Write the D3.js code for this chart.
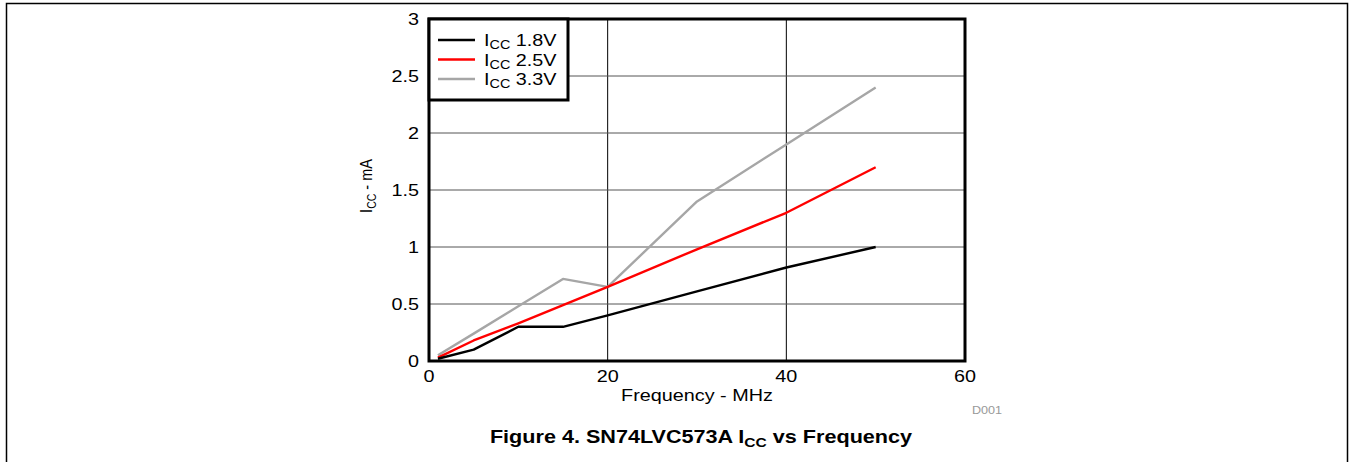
<!DOCTYPE html>
<html>
<head>
<meta charset="utf-8">
<script src="https://cdn.jsdelivr.net/npm/d3@7"></script>
<style>
  body { margin: 0; background: #fff; }
  text { font-family: "Liberation Sans", Arial, sans-serif; }
</style>
</head>
<body>
<div id="chart"></div>
<script>
// frequency (MHz) and ICC (mA)
var freq18 = [1, 5, 10, 15, 20, 30, 40, 50];
var icc18 = [0.02, 0.1, 0.3, 0.3, 0.4, 0.61, 0.82, 1.0];
var freq25 = [1, 5, 10, 15, 20, 30, 40, 50];
var icc25 = [0.03, 0.18, 0.33, 0.49, 0.65, 0.98, 1.3, 1.7];
var freq33 = [1, 5, 10, 15, 20, 30, 40, 50];
var icc33 = [0.05, 0.24, 0.48, 0.72, 0.65, 1.4, 1.9, 2.4];
var seriesNames = ["1.8V", "2.5V", "3.3V"];
var seriesColors = ["#000000", "#ff0000", "#a6a6a6"];
var xTicks = [0, 20, 40, 60];
var yTicks = [0, 0.5, 1, 1.5, 2, 2.5, 3];

var W = 1351, H = 462;
var SX = 1.2; // the figure's text looks stretched sideways
var svg = d3.select("#chart").append("svg").attr("width", W).attr("height", H);

// outer page frame
svg.append("path")
    .attr("d", "M6.5," + (H + 2) + "V3.5H1347.5V" + (H + 2))
    .attr("fill", "none").attr("stroke", "#000").attr("stroke-width", 1.5);

var x = d3.scaleLinear().domain([0, 60]).range([429, 965]);
var y = d3.scaleLinear().domain([0, 3]).range([361, 19]);

function stext(px, py, anchor, size) {
  return svg.append("text")
      .attr("transform", "translate(" + px + "," + py + ") scale(" + SX + ",1)")
      .attr("text-anchor", anchor).attr("font-size", size);
}

// grid
var g = svg.append("g");
g.selectAll("line.gx").data(xTicks.slice(1, -1)).enter().append("line")
    .attr("x1", function(d) { return x(d); }).attr("x2", function(d) { return x(d); })
    .attr("y1", y(0)).attr("y2", y(3))
    .attr("stroke", "#000").attr("stroke-width", 1);
g.selectAll("line.gy").data(yTicks.slice(1, -1)).enter().append("line")
    .attr("y1", function(d) { return y(d); }).attr("y2", function(d) { return y(d); })
    .attr("x1", x(0)).attr("x2", x(60))
    .attr("stroke", "#555").attr("stroke-width", 1);

// series
var series = [
  { name: seriesNames[0], color: seriesColors[0], pts: d3.zip(freq18, icc18) },
  { name: seriesNames[1], color: seriesColors[1], pts: d3.zip(freq25, icc25) },
  { name: seriesNames[2], color: seriesColors[2], pts: d3.zip(freq33, icc33) }
];
var line = d3.line().x(function(d) { return x(d[0]); }).y(function(d) { return y(d[1]); });
// grey first, black last
series.slice().reverse().forEach(function(s) {
  svg.append("path").datum(s.pts).attr("d", line)
      .attr("fill", "none").attr("stroke", s.color).attr("stroke-width", 2.4)
      .attr("stroke-linejoin", "round");
});

// plot border
svg.append("rect").attr("x", x(0)).attr("y", y(3))
    .attr("width", x(60) - x(0)).attr("height", y(0) - y(3))
    .attr("fill", "none").attr("stroke", "#000").attr("stroke-width", 3);

// tick labels
xTicks.forEach(function(d) {
  stext(x(d), y(0) + 21, "middle", 16.5).text(d);
});
yTicks.forEach(function(d) {
  stext(x(0) - 10, y(d) + 6, "end", 16.5).text(d);
});

// axis titles
stext(697, 401, "middle", 16.5).text("Frequency - MHz");
var yt = svg.append("text").attr("transform", "translate(372,186) scale(" + SX + ",1) rotate(-90)")
    .attr("text-anchor", "middle").attr("font-size", 14.5);
yt.append("tspan").text("I");
yt.append("tspan").attr("font-size", 10.5).attr("dy", 3).text("CC");
yt.append("tspan").attr("dy", -3).text(" - mA");

stext(1002, 414, "end", 10.5).attr("fill", "#999").text("D001");

// legend
svg.append("rect").attr("x", x(0)).attr("y", y(3)).attr("width", 139).attr("height", 81)
    .attr("fill", "#fff").attr("stroke", "#000").attr("stroke-width", 3);
series.forEach(function(s, i) {
  var yy = 40 + i * 19.5;
  svg.append("line").attr("x1", 438).attr("x2", 475).attr("y1", yy).attr("y2", yy)
      .attr("stroke", s.color).attr("stroke-width", 2.6);
  var t = stext(484, yy + 6, "start", 16.5);
  t.append("tspan").text("I");
  t.append("tspan").attr("font-size", 12).attr("dy", 3).text("CC");
  t.append("tspan").attr("dy", -3).text(" " + s.name);
});

// caption
var cap = stext(701, 443, "middle", 18).attr("font-weight", "bold");
cap.append("tspan").text("Figure 4. SN74LVC573A I");
cap.append("tspan").attr("font-size", 13).attr("dy", 4).text("CC");
cap.append("tspan").attr("dy", -4).text(" vs Frequency");
</script>
</body>
</html>
